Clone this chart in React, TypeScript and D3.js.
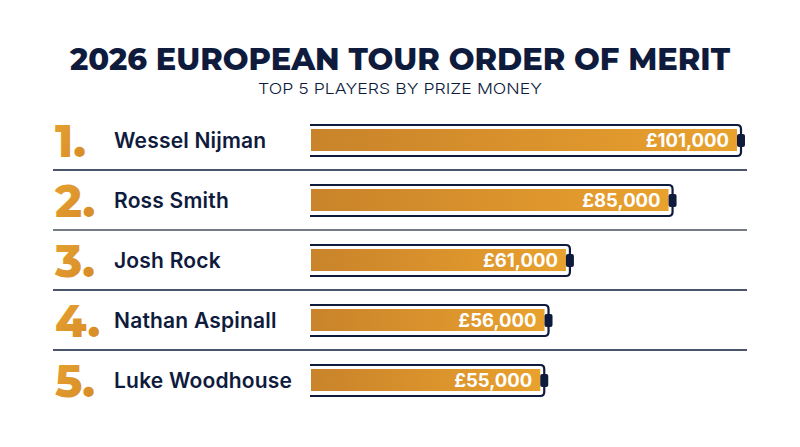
import React from "react";
import * as d3 from "d3";

const players = ["Wessel Nijman", "Ross Smith", "Josh Rock", "Nathan Aspinall", "Luke Woodhouse"];
const prizeMoney = [101000, 85000, 61000, 56000, 55000];
const ranks = ["1.", "2.", "3.", "4.", "5."];
const title = "2026 EUROPEAN TOUR ORDER OF MERIT";
const subtitle = "TOP 5 PLAYERS BY PRIZE MONEY";

const W = 800;
const H = 447;
const NAVY = "#0f1b3d";
const FONT = "Inter, 'Open Sans', 'DejaVu Sans', sans-serif";

export default function App() {
  const x = d3.scaleLinear().domain([0, d3.max(prizeMoney)!]).range([305, 737]);
  const y = d3.scaleBand<number>().domain(d3.range(players.length)).range([110, 410]).padding(0);
  const barStart = 311;
  const fmt = (v: number) => "£" + d3.format(",")(v);

  return (
    <svg width={W} height={H} style={{ display: "block", position: "absolute", left: 0, top: 0 }}>
      <defs>
        <linearGradient id="barGrad" x1="0" x2="1" y1="0" y2="0">
          <stop offset="0%" stopColor="#c9832a" />
          <stop offset="100%" stopColor="#e9a12e" />
        </linearGradient>
        <linearGradient id="rankGrad" x1="0" x2="1" y1="0" y2="1">
          <stop offset="0%" stopColor="#e6a232" />
          <stop offset="100%" stopColor="#d68a26" />
        </linearGradient>
      </defs>
      <rect width={W} height={H} fill="#ffffff" />
      <text x={400} y={70} textAnchor="middle" fontFamily={"Montserrat, " + FONT} fontWeight={800}
        fontSize={30} fill={NAVY} textLength={660} lengthAdjust="spacingAndGlyphs">{title}</text>
      <text x={400} y={94} textAnchor="middle" fontFamily={FONT} fontWeight={300}
        fontSize={15} fill={NAVY} textLength={284} lengthAdjust="spacingAndGlyphs">{subtitle}</text>
      {players.map((p, i) => {
        const cy = y(i)! + y.bandwidth() / 2;
        const xe = x(prizeMoney[i]);
        const ot = cy - 15;
        const ob = cy + 16;
        const r = 4;
        const ox = xe + 4;
        const outline = `M${barStart - 1},${ot} L${ox - r},${ot} Q${ox},${ot} ${ox},${ot + r} L${ox},${ob - r} Q${ox},${ob} ${ox - r},${ob} L${barStart - 1},${ob}`;
        return (
          <g key={p}>
            <text x={55} y={cy + 17} fontFamily={"Montserrat, " + FONT} fontWeight={800} fontSize={45}
              fill="url(#rankGrad)">{ranks[i]}</text>
            <text x={114} y={cy + 7.5} fontFamily={FONT} fontWeight={600} fontSize={21} fill={NAVY}
              letterSpacing={0.2}>{p}</text>
            <path d={outline} fill="none" stroke={NAVY} strokeWidth={2.2} />
            <rect x={barStart} y={cy - 11} width={xe - barStart} height={22} fill="url(#barGrad)" />
            <rect x={xe} y={cy - 6} width={8} height={13} rx={2} fill={NAVY} />
            <text x={xe - 8} y={cy + 7} textAnchor="end" fontFamily={FONT} fontWeight={700} fontSize={18.5}
              fill="#ffffff">{fmt(prizeMoney[i])}</text>
            {i < players.length - 1 && (
              <line x1={53} x2={747} y1={y(i)! + y.bandwidth()} y2={y(i)! + y.bandwidth()}
                stroke={i === 1 ? "#4a4f5e" : NAVY} strokeWidth={1.3} />
            )}
          </g>
        );
      })}
    </svg>
  );
}
